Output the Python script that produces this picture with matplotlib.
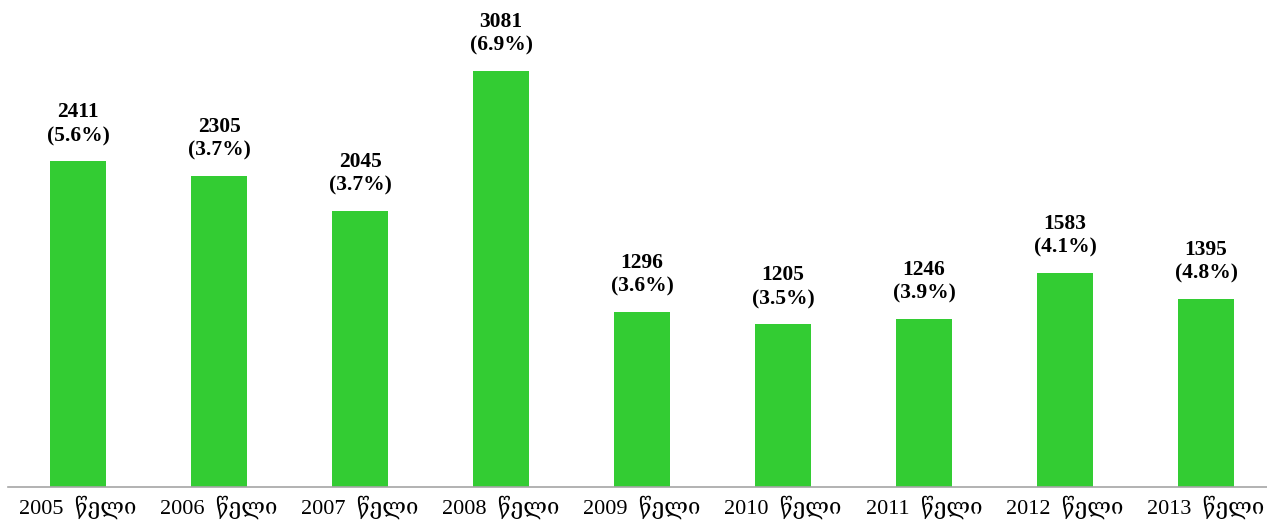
import matplotlib
matplotlib.use("Agg")
import matplotlib.pyplot as plt

years = ["2005", "2006", "2007", "2008", "2009", "2010", "2011", "2012", "2013"]
values = [2411, 2305, 2045, 3081, 1296, 1205, 1246, 1583, 1395]
shares = ["5.6%", "3.7%", "3.7%", "6.9%", "3.6%", "3.5%", "3.9%", "4.1%", "4.8%"]
tick_labels = [f"{y}  წელი" for y in years]

W, H = 1267, 523
fig = plt.figure(figsize=(W / 100, H / 100), dpi=100)
scale = 416 / 3081  # px per unit
ymax = 3500
ax_left = 7.5 / W
ax_width = 141 * 9 / W
ax_bottom = 1 - 487 / H
ax_height = ymax * scale / H
ax = fig.add_axes([ax_left, ax_bottom, ax_width, ax_height])

x = list(range(len(years)))
ax.bar(x, values, width=0.397, color="#33CC33", zorder=2)
ax.set_xlim(-0.5, len(years) - 0.5)
ax.set_ylim(0, ymax)

for xi, v, s in zip(x, values, shares):
    ax.annotate(f"{v}\n({s})", xy=(xi, v), xytext=(0, 11), textcoords="offset points",
                ha="center", va="bottom", fontsize=15.5, fontweight="bold",
                family=["Liberation Serif", "DejaVu Serif"], linespacing=1.25,
                annotation_clip=False, color="black")

ax.set_xticks(x)
ax.set_xticklabels(tick_labels, fontsize=16, family=["Liberation Serif", "DejaVu Serif", "DejaVu Sans"], color="black")
ax.tick_params(axis="x", length=0, pad=6)
ax.set_yticks([])
for sp in ["top", "right", "left"]:
    ax.spines[sp].set_visible(False)
ax.spines["bottom"].set_color("#A6A6A6")
ax.spines["bottom"].set_linewidth(1.2)

fig.savefig("out.png", dpi=100)
